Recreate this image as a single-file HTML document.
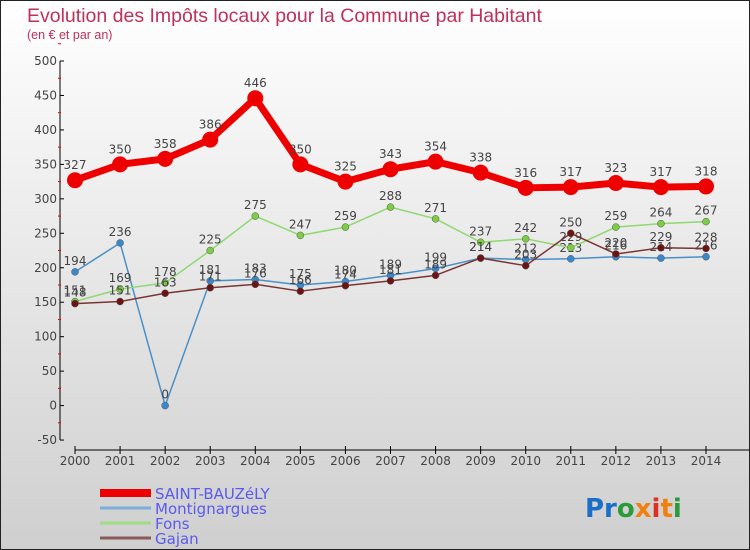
<!DOCTYPE html>
<html><head><meta charset="utf-8"><style>
body{margin:0}
#c{width:750px;height:550px;position:relative;overflow:hidden;font-family:"DejaVu Sans","Liberation Sans",sans-serif}
svg text{font-family:"DejaVu Sans","Liberation Sans",sans-serif}
svg text.lib{font-family:"Liberation Sans",sans-serif}
</style></head><body>
<div id="c">
<svg id="s" width="750" height="550" xmlns="http://www.w3.org/2000/svg">
<defs><linearGradient id="bg" x1="0" y1="0" x2="0" y2="1"><stop offset="0" stop-color="#ffffff"/><stop offset="1" stop-color="#cfcfcf"/></linearGradient></defs>
<rect x="0.5" y="0.5" width="749" height="549" fill="url(#bg)" stroke="#222"/>
<text class="lib" x="27" y="22" font-size="19.5" fill="#c0305a">Evolution des Impôts locaux pour la Commune par Habitant</text>
<text class="lib" x="27" y="39" font-size="12.5" fill="#c0305a">(en € et par an)</text>
<g id="axes"></g>
<g id="series"></g>
<g id="legend"></g>
<text x="585" y="517" font-size="26" font-weight="bold"><tspan fill="#1a6fc8">Pr</tspan><tspan fill="#2a9a3a">o</tspan><tspan fill="#f08010">x</tspan><tspan fill="#e03020">i</tspan><tspan fill="#f08010">t</tspan><tspan fill="#2a9a3a">i</tspan></text>
</svg>
</div>
<script>
const years=["2000","2001","2002","2003","2004","2005","2006","2007","2008","2009","2010","2011","2012","2013","2014"];
const yTicks=[-50,0,50,100,150,200,250,300,350,400,450,500];
const saint=[327,350,358,386,446,350,325,343,354,338,316,317,323,317,318];
const montig=[194,236,0,181,183,175,180,189,199,214,212,213,216,214,216];
const fons=[151,169,178,225,275,247,259,288,271,237,242,229,259,264,267];
const gajan=[148,151,163,171,176,166,174,181,189,214,203,250,220,229,228];
const names=["SAINT-BAUZéLY","Montignargues","Fons","Gajan"];
const NS="http://www.w3.org/2000/svg";
const X=i=>75+i*(706-75)/14;
const Y=v=>405.6-v*(405.6-61)/500;
function mk(t,a,p){const e=document.createElementNS(NS,t);for(const k in a)e.setAttribute(k,a[k]);p.appendChild(e);return e;}
const ax=document.getElementById('axes');
let l=mk('line',{x1:60,y1:Y(500),x2:60,y2:Y(-50),stroke:'#000'},ax);


yTicks.forEach(v=>{
 const t=mk('line',{x1:60,y1:Y(v),x2:64,y2:Y(v),stroke:'#000'},ax);
 
 
 const m=mk('line',{x1:58,y1:Y(v+25),x2:61,y2:Y(v+25),stroke:'#e00'},ax);
 
 
 const tx=mk('text',{x:57,y:Y(v)+4,'font-size':12,'text-anchor':'end',fill:'#444'},ax);
 tx.textContent=v;
 
 
});
const xa=mk('line',{x1:X(0),y1:450,x2:750,y2:450,stroke:'#000'},ax);


years.forEach((y,i)=>{
 const t=mk('line',{x1:X(i),y1:446,x2:X(i),y2:454,stroke:'#000'},ax);
 
 
 const tx=mk('text',{x:X(i),y:465,'font-size':12,'text-anchor':'middle',fill:'#444'},ax);
 tx.textContent=y;
 
 
});
const se=document.getElementById('series');
const cfg=[[montig,'#4a90c8','#3a88cc',1.5,3.5],[fons,'#90d870','#7ccc44',1.5,3.5],[gajan,'#7a3434','#6a1414',1.5,3.5],[saint,'#ee0000','#ee0000',7,8]];
const keys=['montignargues','fons','gajan','saint-bauzely'];
cfg.forEach((c,k)=>{
 const g=mk('g',{},se);
 
 
 const pts=c[0].map((v,i)=>X(i)+','+Y(v)).join(' ');
 const pl=mk('polyline',{points:pts,fill:'none',stroke:c[1],'stroke-width':c[3],'stroke-linejoin':'round'},g);
 
 
 c[0].forEach((v,i)=>{
  const p=mk('circle',{cx:X(i),cy:Y(v),r:c[4],fill:c[2],stroke:k==3?'none':'#555','stroke-width':0.5},g);
  
  
  const tx=mk('text',{x:X(i),y:Y(v)-(k==3?11:7),'font-size':12,'text-anchor':'middle',fill:'#444'},g);
  tx.textContent=v;
  
  
 });
});
const lg=document.getElementById('legend');
const lc=[['#ee0000',8],['#7aaed8',3],['#a0dc88',3],['#8a5a5a',3]];
names.forEach((n,k)=>{
 const y=493+k*15;
 const g=mk('g',{},lg);
 
 
 mk('line',{x1:100,y1:y,x2:151,y2:y,stroke:lc[k][0],'stroke-width':lc[k][1]},g);
 const tx=mk('text',{x:155,y:y+6,'font-size':15,fill:'#5a5aee'},g);
 tx.textContent=n;
});
</script>
</body></html>
